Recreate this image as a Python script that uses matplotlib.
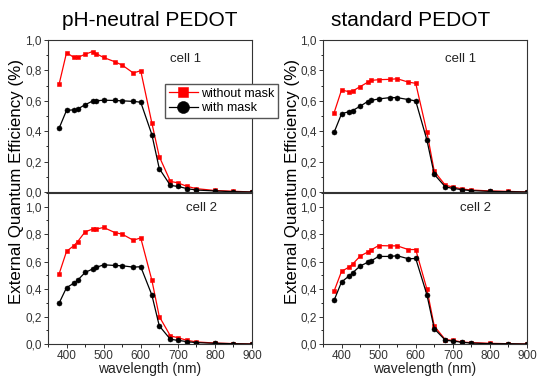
import numpy as np
import matplotlib
matplotlib.use("Agg")
import matplotlib.pyplot as plt
from matplotlib.ticker import FuncFormatter, MultipleLocator

plt.rcParams['font.family'] = ['Liberation Sans', 'DejaVu Sans']

wl = [380, 400, 420, 430, 450, 470, 480, 500, 530, 550, 580, 600,
      630, 650, 680, 700, 725, 750, 800, 850, 900]

# pH-neutral PEDOT
neutral_c1_nomask = [0.71, 0.917, 0.885, 0.885, 0.906, 0.924, 0.91, 0.885, 0.857, 0.835, 0.783, 0.798,
                     0.454, 0.233, 0.07, 0.06, 0.037, 0.022, 0.01, 0.005, 0.0]
neutral_c1_mask = [0.42, 0.537, 0.541, 0.546, 0.574, 0.598, 0.60, 0.604, 0.602, 0.60, 0.596, 0.591,
                   0.378, 0.154, 0.043, 0.037, 0.022, 0.013, 0.007, 0.002, 0.0]
neutral_c2_nomask = [0.511, 0.675, 0.717, 0.746, 0.817, 0.837, 0.837, 0.849, 0.812, 0.80, 0.756, 0.773,
                     0.465, 0.20, 0.059, 0.046, 0.027, 0.015, 0.007, 0.003, 0.0]
neutral_c2_mask = [0.298, 0.411, 0.443, 0.465, 0.521, 0.546, 0.558, 0.577, 0.572, 0.57, 0.56, 0.563,
                   0.357, 0.132, 0.034, 0.027, 0.017, 0.01, 0.005, 0.002, 0.0]

# standard PEDOT
std_c1_nomask = [0.522, 0.671, 0.66, 0.664, 0.693, 0.721, 0.734, 0.739, 0.741, 0.745, 0.723, 0.715,
                 0.396, 0.136, 0.044, 0.033, 0.02, 0.013, 0.007, 0.004, 0.0]
std_c1_mask = [0.393, 0.514, 0.529, 0.536, 0.564, 0.595, 0.603, 0.612, 0.621, 0.621, 0.608, 0.599,
               0.343, 0.116, 0.033, 0.024, 0.015, 0.009, 0.004, 0.002, 0.0]
std_c2_nomask = [0.386, 0.529, 0.56, 0.582, 0.64, 0.669, 0.686, 0.717, 0.715, 0.715, 0.688, 0.688,
                 0.401, 0.13, 0.031, 0.027, 0.014, 0.01, 0.005, 0.002, 0.0]
std_c2_mask = [0.319, 0.452, 0.495, 0.519, 0.568, 0.594, 0.606, 0.638, 0.638, 0.643, 0.621, 0.623,
               0.36, 0.111, 0.027, 0.022, 0.012, 0.007, 0.002, 0.002, 0.0]

fig = plt.figure(figsize=(5.37, 3.76), dpi=100)
W, H = 537.0, 376.0

def make_ax(x0, x1, y_top, y_bot):
    return fig.add_axes([x0 / W, 1 - y_bot / H, (x1 - x0) / W, (y_bot - y_top) / H])

comma = FuncFormatter(lambda v, p: f"{v:.1f}".replace('.', ','))

panels = [
    (48, 252, 40, 192, neutral_c1_nomask, neutral_c1_mask, "cell 1", 1.0, False),
    (48, 252, 193, 344, neutral_c2_nomask, neutral_c2_mask, "cell 2", 1.1, True),
    (323, 527, 40, 192, std_c1_nomask, std_c1_mask, "cell 1", 1.0, False),
    (323, 527, 193, 344, std_c2_nomask, std_c2_mask, "cell 2", 1.1, True),
]

axes = []
for x0, x1, yt, yb, red, black, cell, ytop, xlab in panels:
    ax = make_ax(x0, x1, yt, yb)
    ax.plot(wl, red, color='#ff0000', marker='s', markersize=3.2, markeredgewidth=0.4,
            lw=0.9, label='without mask')
    ax.plot(wl, black, color='black', marker='o', markersize=3.6, markeredgewidth=0.4,
            lw=0.9, label='with mask')
    ax.set_xlim(350, 900)
    ax.set_ylim(0, ytop)
    ax.xaxis.set_major_locator(MultipleLocator(100))
    ax.xaxis.set_minor_locator(MultipleLocator(50))
    ax.yaxis.set_minor_locator(MultipleLocator(0.1))
    ax.set_yticks(np.arange(0, 1.01, 0.2))
    ax.yaxis.set_major_formatter(comma)
    ax.tick_params(which='major', direction='out', length=3, width=0.7, labelsize=8.5,
                   colors='#333333', pad=1.5, top=False, right=False)
    ax.tick_params(which='minor', direction='out', length=1.8, width=0.6, top=False, right=False)
    for s in ax.spines.values():
        s.set_color('#333333')
        s.set_linewidth(0.8)
    if xlab:
        ax.set_xlabel('wavelength (nm)', fontsize=10, labelpad=0, color='#222222')
    else:
        ax.tick_params(labelbottom=False)
    if cell == 'cell 1':
        ax.text(0.676, 0.875, cell, transform=ax.transAxes, ha='center', va='center',
                fontsize=9.5, color='#222222')
    else:
        ax.text(0.75, 0.9, cell, transform=ax.transAxes, ha='center', va='center',
                fontsize=9.5, color='#222222')
    axes.append(ax)

axes[0].legend(loc='upper left', bbox_to_anchor=(117 / 204, 1 - 44 / 152), fontsize=9,
               frameon=True, fancybox=False, edgecolor='#555555', framealpha=1,
               markerscale=2.4, handlelength=2.3, handletextpad=0.3,
               borderpad=0.3, labelspacing=0.2, borderaxespad=0)

fig.text(150 / W, 1 - 20 / H, 'pH-neutral PEDOT', ha='center', va='center', fontsize=15)
fig.text(411 / W, 1 - 20 / H, 'standard PEDOT', ha='center', va='center', fontsize=15)
fig.text(17 / W, 1 - 182 / H, 'External Quantum Efficiency (%)', rotation=90,
         ha='center', va='center', fontsize=12.2)
fig.text(293 / W, 1 - 182 / H, 'External Quantum Efficiency (%)', rotation=90,
         ha='center', va='center', fontsize=12.2)

fig.savefig('out.png', dpi=100)
